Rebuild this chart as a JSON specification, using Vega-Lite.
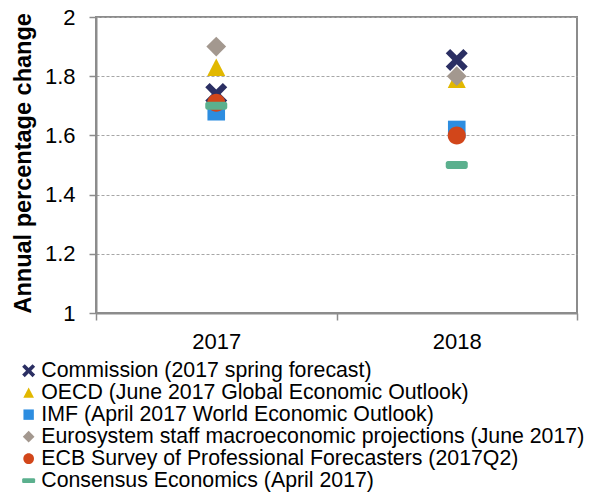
{
  "$schema": "https://vega.github.io/schema/vega-lite/v6.json",
  "width": 481,
  "height": 296,
  "autosize": {"type": "none"},
  "padding": {"left": 96, "top": 17, "right": 15, "bottom": 181},
  "background": "white",
  "data": {
    "values": [
      {"year": "2017", "series": "OECD (June 2017 Global Economic Outlook)", "value": 1.83},
      {"year": "2018", "series": "OECD (June 2017 Global Economic Outlook)", "value": 1.79},
      {"year": "2017", "series": "IMF (April 2017 World Economic Outlook)", "value": 1.68},
      {"year": "2018", "series": "IMF (April 2017 World Economic Outlook)", "value": 1.62},
      {"year": "2017", "series": "Eurosystem staff macroeconomic projections (June 2017)", "value": 1.9},
      {"year": "2018", "series": "Eurosystem staff macroeconomic projections (June 2017)", "value": 1.8},
      {"year": "2017", "series": "Commission (2017 spring forecast)", "value": 1.74},
      {"year": "2018", "series": "Commission (2017 spring forecast)", "value": 1.855},
      {"year": "2017", "series": "ECB Survey of Professional Forecasters (2017Q2)", "value": 1.71},
      {"year": "2018", "series": "ECB Survey of Professional Forecasters (2017Q2)", "value": 1.6},
      {"year": "2017", "series": "Consensus Economics (April 2017)", "value": 1.7},
      {"year": "2018", "series": "Consensus Economics (April 2017)", "value": 1.5}
    ]
  },
  "mark": {"type": "point", "filled": true, "opacity": 1, "size": 484, "strokeWidth": 0},
  "encoding": {
    "x": {
      "field": "year", "type": "nominal", "sort": ["2017", "2018"],
      "scale": {"paddingInner": 0, "paddingOuter": 0},
      "axis": {
        "title": null, "labelAngle": 0, "tickBand": "extent",
        "labelFontSize": 22, "labelPadding": 11, "tickSize": 7
      }
    },
    "y": {
      "field": "value", "type": "quantitative",
      "scale": {"domain": [1, 2], "nice": false, "zero": false},
      "axis": {
        "title": "Annual percentage change", "values": [1, 1.2, 1.4, 1.6, 1.8, 2],
        "format": "~g", "labelFontSize": 22, "labelPadding": 14, "tickSize": 7,
        "titleFontSize": 23.5, "titleFontWeight": "bold", "titleAnchor": "start",
        "titlePadding": 9,
        "grid": true, "gridDash": [3, 2], "gridColor": "#a6a6a6", "gridWidth": 1
      }
    },
    "color": {
      "field": "series", "type": "nominal",
      "scale": {
        "domain": [
          "Commission (2017 spring forecast)",
          "OECD (June 2017 Global Economic Outlook)",
          "IMF (April 2017 World Economic Outlook)",
          "Eurosystem staff macroeconomic projections (June 2017)",
          "ECB Survey of Professional Forecasters (2017Q2)",
          "Consensus Economics (April 2017)"
        ],
        "range": ["#2b2f63", "#e2b800", "#2d8de0", "#a3988f", "#d2461a", "#5bb08e"]
      },
      "legend": {
        "title": null, "orient": "none", "legendX": -78, "legendY": 343,
        "labelFontSize": 21.3, "labelColor": "#000000", "symbolSize": 169,
        "rowPadding": 0, "labelOffset": 2, "padding": 0, "symbolStrokeWidth": 0,
        "symbolOpacity": 1
      }
    },
    "shape": {
      "field": "series", "type": "nominal",
      "scale": {
        "domain": [
          "Commission (2017 spring forecast)",
          "OECD (June 2017 Global Economic Outlook)",
          "IMF (April 2017 World Economic Outlook)",
          "Eurosystem staff macroeconomic projections (June 2017)",
          "ECB Survey of Professional Forecasters (2017Q2)",
          "Consensus Economics (April 2017)"
        ],
        "range": [
          "M-1,-0.6L-0.6,-1L0,-0.4L0.6,-1L1,-0.6L0.4,0L1,0.6L0.6,1L0,0.4L-0.6,1L-1,0.6L-0.4,0Z",
          "M0,-0.8L0.82,0.8L-0.82,0.8Z",
          "M-0.8,-0.8L0.8,-0.8L0.8,0.8L-0.8,0.8Z",
          "M0,-0.9L0.9,0L0,0.9L-0.9,0Z",
          "M-0.82,0A0.82,0.82,0,1,0,0.82,0A0.82,0.82,0,1,0,-0.82,0Z",
          "M-0.8,-0.36L0.8,-0.36A0.2,0.2,0,0,1,1,-0.16L1,0.16A0.2,0.2,0,0,1,0.8,0.36L-0.8,0.36A0.2,0.2,0,0,1,-1,0.16L-1,-0.16A0.2,0.2,0,0,1,-0.8,-0.36Z"
        ]
      },
      "legend": null
    }
  },
  "config": {
    "font": "Liberation Sans",
    "view": {"stroke": "#8c8c8c", "strokeWidth": 2},
    "axis": {
      "labelFont": "Liberation Sans", "titleFont": "Liberation Sans",
      "labelColor": "#000000", "titleColor": "#000000",
      "domainColor": "#8c8c8c", "domainWidth": 2,
      "tickColor": "#8c8c8c", "tickWidth": 1.5
    },
    "legend": {"labelFont": "Liberation Sans", "labelLimit": 0}
  }
}
